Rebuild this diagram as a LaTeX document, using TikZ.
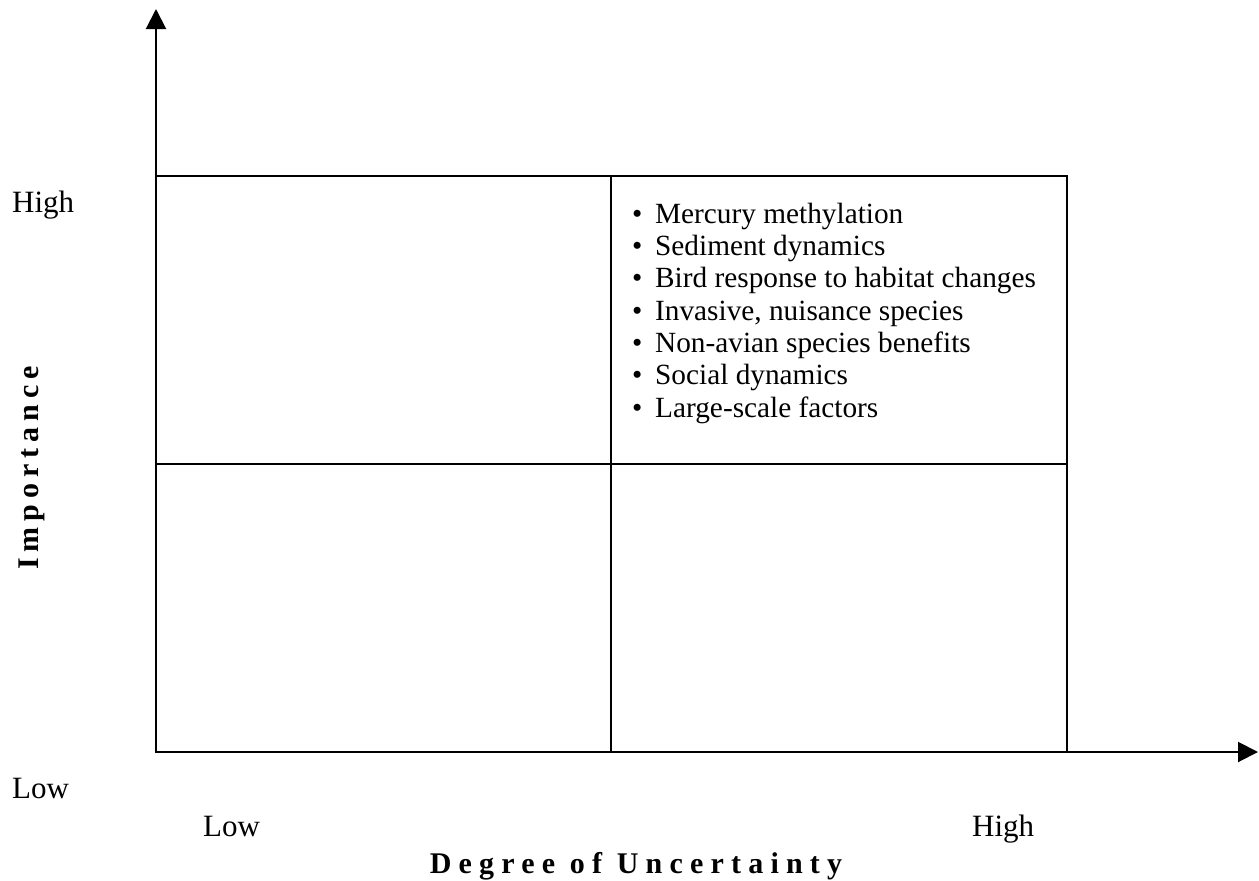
\documentclass[tikz,border=0pt]{standalone}
\usepackage{fontspec}
\setmainfont{Liberation Serif}
\usetikzlibrary{arrows.meta}
\begin{document}
\begin{tikzpicture}[x=1pt,y=-1pt,
  axis/.style={line width=2pt, -{Triangle[length=20pt,width=20pt]}},
  gridline/.style={line width=1.8pt},
  itemtext/.style={font=\fontsize{29.3}{32}\selectfont, inner sep=0pt, anchor=base west},
  lab/.style={font=\fontsize{31}{34}\selectfont, inner sep=0pt, anchor=base west},
  axtitle/.style={inner sep=0pt, anchor=base, font=\fontsize{30}{32}\selectfont\bfseries\addfontfeatures{LetterSpace=24}},
  ytitlestyle/.style={inner sep=0pt, anchor=base, rotate=90, font=\fontsize{30}{32}\selectfont\bfseries\addfontfeatures{LetterSpace=20}}]
\useasboundingbox (0,0) rectangle (1259,881);
\coordinate (O) at (156,752);
\coordinate (ytip) at (156,9);
\coordinate (xtip) at (1258,752);
\coordinate (TL) at (156,176);
\coordinate (BR) at (1067,752);
\coordinate (TM) at (611,176);
\coordinate (BM) at (611,752);
\coordinate (ML) at (156,464);
\coordinate (MR) at (1067,464);
\draw[axis] (O) -- (ytip);
\draw[axis] (O) -- (xtip);
\draw[gridline] (TL) rectangle (BR);
\draw[gridline] (TM) -- (BM);
\draw[gridline] (ML) -- (MR);
% bullet list
\node[itemtext] (i1) at (632,223) {\makebox[23pt][l]{\textbullet}Mercury methylation};
\node[itemtext] (i2) at (632,255.3) {\makebox[23pt][l]{\textbullet}Sediment dynamics};
\node[itemtext] (i3) at (632,287.7) {\makebox[23pt][l]{\textbullet}Bird response to habitat changes};
\node[itemtext] (i4) at (632,320) {\makebox[23pt][l]{\textbullet}Invasive, nuisance species};
\node[itemtext] (i5) at (632,352.3) {\makebox[23pt][l]{\textbullet}Non-avian species benefits};
\node[itemtext] (i6) at (632,384.7) {\makebox[23pt][l]{\textbullet}Social dynamics};
\node[itemtext] (i7) at (632,417) {\makebox[23pt][l]{\textbullet}Large-scale factors};
% axis labels
\node[lab] (yhigh) at (12,212) {High};
\node[lab] (ylow) at (12,798) {Low};
\node[lab] (xlow) at (203,836) {Low};
\node[lab] (xhigh) at (972,836) {High};
\node[axtitle] (xtitle) at (636,873) {Degree of Uncertainty};
\node[ytitlestyle] (ytitle) at (38,468) {Importance};
\end{tikzpicture}
\end{document}
